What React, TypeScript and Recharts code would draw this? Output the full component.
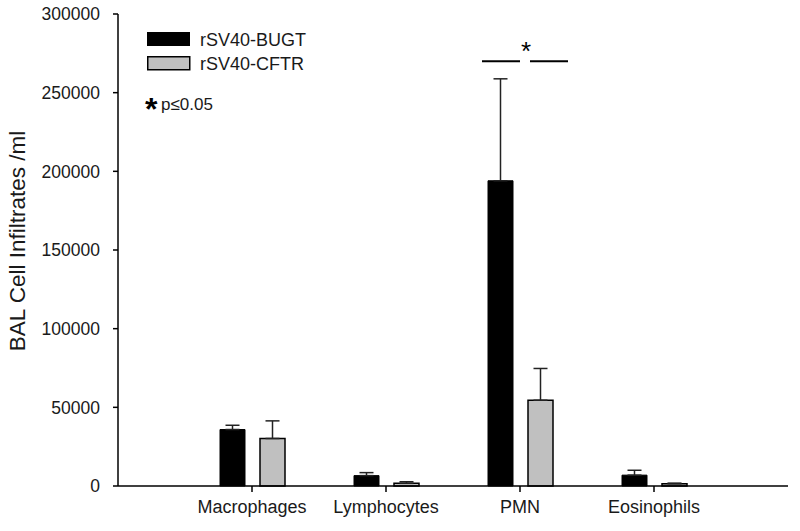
import { BarChart, Bar, XAxis, YAxis, ErrorBar, Legend, ReferenceDot } from 'recharts'

const categories = ['Macrophages', 'Lymphocytes', 'PMN', 'Eosinophils']
const bugt = [35900, 6600, 194000, 6900]
const bugtErr = [2700, 1900, 64800, 3100]
const cftr = [30200, 1700, 54500, 1500]
const cftrErr = [11200, 1000, 20200, 300]
const yTicks = [0, 50000, 100000, 150000, 200000, 250000, 300000]

const seriesNames = ['rSV40-BUGT', 'rSV40-CFTR']
const font = '"Liberation Sans", Arial, sans-serif'
const ink = '#1a1a1a'

const data = categories.map((name, i) => ({
  name,
  bugt: bugt[i],
  bugtErr: [0, bugtErr[i]],
  cftr: cftr[i],
  cftrErr: [0, cftrErr[i]],
}))

function LegendBox() {
  return (
    <svg width={300} height={130} style={{ overflow: 'visible' }}>
      <rect x={147} y={32} width={43} height={14} fill="#000" />
      <text x={200} y={45.5} fontSize={18} fontFamily={font} fill={ink}>{seriesNames[0]}</text>
      <rect x={147.75} y={56.75} width={42} height={13} fill="#c0c0c0" stroke="#000" strokeWidth={1.5} />
      <text x={200} y={69.5} fontSize={18} fontFamily={font} fill={ink}>{seriesNames[1]}</text>
      <text x={145} y={120} fontSize={32} fontWeight="bold" fontFamily={font} fill="#000">*</text>
      <text x={161} y={110} fontSize={17} fontFamily={font} fill={ink}>p≤0.05</text>
    </svg>
  )
}

// significance bracket over PMN, anchored at the band centre
function SigMark(props: any) {
  const { cx, cy } = props
  return (
    <g>
      <line x1={cx - 38} y1={cy} x2={cx} y2={cy} stroke="#000" strokeWidth={2} />
      <line x1={cx + 10} y1={cy} x2={cx + 48} y2={cy} stroke="#000" strokeWidth={2} />
      <text x={cx + 6} y={cy - 1} textAnchor="middle" fontSize={26} fontFamily={font} fill="#000">*</text>
    </g>
  )
}

export default function App() {
  return (
    <div style={{ position: 'absolute', left: 0, top: 0, width: 800, height: 531, background: '#fff' }}>
      <BarChart
        width={800}
        height={531}
        data={data}
        margin={{ top: 14, right: 12, bottom: 15, left: 0 }}
        barSize={25}
        barGap={15}
      >
        <XAxis
          dataKey="name"
          height={30}
          padding={{ left: 67, right: 67 }}
          axisLine={{ stroke: '#000', strokeWidth: 1.5 }}
          tickLine={{ stroke: '#000', strokeWidth: 1.5 }}
          tickSize={6}
          tickMargin={8}
          tick={{ fill: ink, fontSize: 18, fontFamily: font }}
          interval={0}
        />
        <YAxis
          domain={[0, 300000]}
          ticks={yTicks}
          interval={0}
          width={118}
          axisLine={{ stroke: '#000', strokeWidth: 1.5 }}
          tickLine={{ stroke: '#000', strokeWidth: 1.5 }}
          tickSize={5}
          tickMargin={13}
          tick={{ fill: ink, fontSize: 17.5, fontFamily: font }}
          label={{
            content: (p: any) => {
              const vb = p.viewBox
              const x = vb.x + 17
              const y = vb.y + vb.height / 2 - 9
              return (
                <text x={x} y={y} transform={`rotate(-90 ${x} ${y})`} textAnchor="middle"
                  dominantBaseline="central" fontSize={22.5} fontFamily={font} fill={ink}>
                  BAL Cell Infiltrates /ml
                </text>
              )
            },
          }}
        />
        <Legend
          layout="horizontal"
          verticalAlign="middle"
          wrapperStyle={{ top: 0, left: 0, width: 300, height: 130 }}
          content={() => <LegendBox />}
        />
        <Bar dataKey="bugt" name={seriesNames[0]} fill="#000" stroke="#000" strokeWidth={1} isAnimationActive={false}>
          <ErrorBar dataKey="bugtErr" width={7} stroke="#222" strokeWidth={1.5} />
        </Bar>
        <Bar dataKey="cftr" name={seriesNames[1]} fill="#c0c0c0" stroke="#000" strokeWidth={1.5} isAnimationActive={false}>
          <ErrorBar dataKey="cftrErr" width={7} stroke="#222" strokeWidth={1.5} />
        </Bar>
        <ReferenceDot x="PMN" y={270000} r={0} shape={SigMark} ifOverflow="visible" />
      </BarChart>
    </div>
  )
}
